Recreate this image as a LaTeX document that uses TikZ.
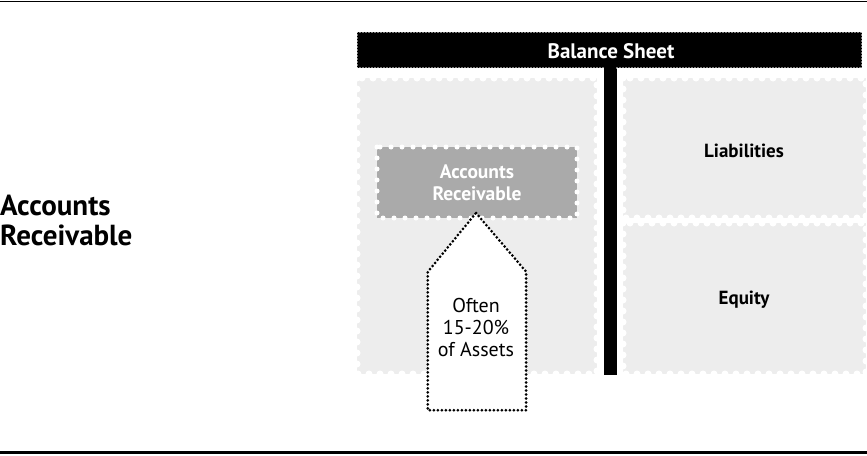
\documentclass[tikz,border=0pt]{standalone}
\usepackage{fontspec}
\setmainfont{PT Sans}
\definecolor{stampgrey}{HTML}{EDEDED}
\definecolor{argrey}{HTML}{AAAAAA}
\begin{document}
\begin{tikzpicture}[x=1pt,y=-1pt,
  perf/.style={white, line width=7pt, line cap=round, dash pattern=on 0pt off 11pt},
  smallperf/.style={white, line width=5pt, line cap=round, dash pattern=on 0pt off 11pt},
  serr/.style={white, line width=1.6pt, line cap=round, dash pattern=on 0pt off 3pt},
  dotline/.style={black, line width=3pt, line cap=round, dash pattern=on 0pt off 4pt},
  lbl/.style={inner sep=0pt, align=center, font=\fontsize{18}{22}\selectfont},
  bigtxt/.style={inner sep=0pt, align=left, anchor=north west, font=\fontsize{29}{30}\selectfont\bfseries}
]
\useasboundingbox (0,0) rectangle (867,455);
% rules
\coordinate (tl) at (0,1); \coordinate (tr) at (867,1);
\coordinate (bl) at (0,452.5); \coordinate (br) at (867,452.5);
\draw[line width=1pt] (tl) -- (tr);
\draw[line width=3pt] (bl) -- (br);
% assets box
\fill[stampgrey] (357,78) rectangle (597,374);
\draw[perf] (357,78) rectangle (597,374);
% liabilities / equity
\fill[stampgrey] (623,78) rectangle (866,218);
\draw[perf] (623,78) rectangle (866,218);
\fill[stampgrey] (623,223) rectangle (866,374);
\draw[perf] (623,223) rectangle (866,374);
% vertical bar
\fill[black] (604,62) rectangle (617,375);
% header
\fill[black] (357,32) rectangle (862,68);
\draw[serr] (357,32) -- (862,32);
\draw[serr] (357,68) -- (604,68);
\draw[serr] (617,68) -- (862,68);
\draw[serr] (357,32) -- (357,68);
\draw[serr] (862,32) -- (862,68);
\node[lbl, text=white, font=\fontsize{21}{22}\selectfont\bfseries] (bs) at (611,51) {Balance Sheet};
% AR box
\fill[argrey] (377,147) rectangle (577,218);
\draw[smallperf] (377,147) rectangle (577,218);
\node[lbl, text=white, font=\fontsize{19.5}{22}\selectfont\bfseries] (ar) at (477,183) {Accounts\\Receivable};
% arrow
\node[inner sep=0pt, minimum width=98pt, minimum height=138pt] (shaft) at (477,341) {};
\coordinate (tip) at (476,213);
\draw[dotline, fill=white] (tip) -- (shaft.north east) -- (shaft.south east) -- (shaft.south west) -- (shaft.north west) -- cycle;
\node[lbl, font=\fontsize{20}{22}\selectfont] (often) at (476,327) {Often\\15-20\%\\of Assets};
% right labels
\node[lbl, font=\fontsize{19}{22}\selectfont\bfseries] (liab) at (744,151) {Liabilities};
\node[lbl, font=\fontsize{19}{22}\selectfont\bfseries] (eq) at (744,300) {Equity};
% left label
\node[bigtxt] (left) at (0,195) {Accounts\\Receivable};
\end{tikzpicture}
\end{document}
